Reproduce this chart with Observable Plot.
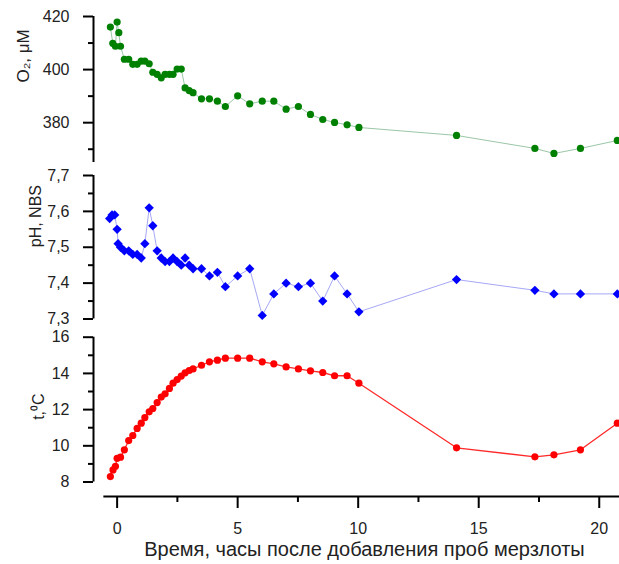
<!DOCTYPE html>
<html>
<head>
<meta charset="utf-8">
<script src="https://cdn.jsdelivr.net/npm/d3@7"></script>
<script src="https://cdn.jsdelivr.net/npm/@observablehq/plot@0.6"></script>
<style>
  html, body { margin: 0; padding: 0; background: #fff; }
  #chart { position: relative; width: 619px; height: 564px; font-family: "Liberation Sans", Arial, sans-serif; }
  #chart svg { position: absolute; left: 0; overflow: visible; }
</style>
</head>
<body>
<div id="chart"></div>
<script>
// ---- Data ----
const timeO2 = [-0.28, -0.18, -0.07, 0.00, 0.07, 0.14, 0.30, 0.48, 0.65, 0.83, 1.00, 1.15, 1.33, 1.48, 1.66, 1.83, 1.99, 2.17, 2.32, 2.49, 2.66, 2.82, 2.99, 3.15, 3.50, 3.83, 4.16, 4.49, 5.00, 5.50, 6.02, 6.50, 7.01, 7.52, 8.02, 8.53, 9.02, 9.54, 10.03, 14.08, 17.33, 18.12, 19.22, 20.75];
const o2 = [416.0, 409.9, 408.8, 417.9, 413.9, 408.8, 403.9, 403.9, 402.0, 402.0, 403.2, 403.2, 402.2, 399.0, 398.2, 396.9, 398.2, 398.2, 398.2, 400.2, 400.2, 393.1, 392.1, 391.3, 389.0, 389.0, 388.1, 386.1, 390.1, 387.1, 388.1, 388.1, 385.1, 386.1, 383.1, 381.2, 380.1, 379.2, 378.2, 375.2, 370.3, 368.4, 370.3, 373.3];

const timePH = [-0.31, -0.21, -0.10, 0.00, 0.04, 0.14, 0.30, 0.48, 0.65, 0.83, 1.00, 1.15, 1.33, 1.48, 1.66, 1.83, 1.99, 2.17, 2.32, 2.49, 2.66, 2.82, 2.99, 3.15, 3.50, 3.83, 4.16, 4.49, 5.00, 5.50, 6.02, 6.50, 7.01, 7.52, 8.02, 8.53, 9.02, 9.54, 10.03, 14.08, 17.33, 18.12, 19.22, 20.75];
const ph = [7.58, 7.59, 7.59, 7.55, 7.51, 7.50, 7.49, 7.49, 7.48, 7.48, 7.47, 7.51, 7.61, 7.56, 7.49, 7.47, 7.46, 7.46, 7.47, 7.46, 7.45, 7.47, 7.45, 7.44, 7.44, 7.42, 7.43, 7.39, 7.42, 7.44, 7.31, 7.37, 7.40, 7.39, 7.40, 7.35, 7.42, 7.37, 7.32, 7.41, 7.38, 7.37, 7.37, 7.37];

const timeT = [-0.28, -0.17, -0.07, 0.00, 0.14, 0.30, 0.48, 0.65, 0.83, 1.00, 1.15, 1.33, 1.48, 1.66, 1.83, 1.99, 2.17, 2.32, 2.49, 2.66, 2.82, 2.99, 3.15, 3.50, 3.83, 4.16, 4.49, 5.00, 5.50, 6.02, 6.50, 7.01, 7.52, 8.02, 8.53, 9.02, 9.54, 10.03, 14.08, 17.33, 18.12, 19.22, 20.75];
const temp = [8.30, 8.67, 8.87, 9.31, 9.37, 9.78, 10.29, 10.57, 10.96, 11.25, 11.56, 11.88, 12.06, 12.39, 12.69, 12.87, 13.17, 13.46, 13.66, 13.85, 14.03, 14.16, 14.25, 14.45, 14.64, 14.73, 14.84, 14.84, 14.84, 14.64, 14.53, 14.36, 14.25, 14.14, 14.05, 13.87, 13.87, 13.46, 9.89, 9.39, 9.50, 9.78, 11.25];

const xMajorTicks = [0, 5, 10, 15, 20];
const xMinorTicks = [2.5, 7.5, 12.5, 17.5];
const o2Major = [380, 400, 420], o2Minor = [370, 390, 410];
const phMajor = [7.3, 7.4, 7.5, 7.6, 7.7], phMinor = [7.35, 7.45, 7.55, 7.65];
const tMajor = [8, 10, 12, 14, 16], tMinor = [9, 11, 13, 15];

const xLabel = "Время, часы после добавления проб мерзлоты";
const o2Label = "O₂, μM";
const phLabel = "pH, NBS";
const tLabel = "t,⁰C";

// ---- Layout ----
const W = 619;
const xDomain = [-0.98, 20.84];
const FONT = "Liberation Sans, Arial, sans-serif";
const chart = document.getElementById("chart");

function yAxisMarks(axisExtent, major, minor, fmt, label, labelDx, labelDy, labelSize) {
  return [
    Plot.ruleX([xDomain[0]], {y1: axisExtent[0], y2: axisExtent[1], stroke: "#000", strokeWidth: 2}),
    Plot.axisY({ticks: major, tickSize: 10, tickPadding: 14, tickFormat: fmt, fontSize: 16, strokeWidth: 2, label: null, fill: "#222"}),
    Plot.axisY({ticks: minor, tickSize: 5, tickFormat: () => "", strokeWidth: 2, label: null}),
    Plot.text([label], {frameAnchor: "left", rotate: -90, dx: labelDx, dy: labelDy, fontSize: labelSize, fill: "#222", text: d => d})
  ];
}

function place(svg, top) {
  svg.style.top = top + "px";
  chart.appendChild(svg);
}

// Panel 1: O2
const o2Data = timeO2.map((t, i) => ({t, v: o2[i]}));
place(Plot.plot({
  width: W, height: 170, marginLeft: 93, marginRight: 0, marginTop: 16, marginBottom: 8,
  style: {fontFamily: FONT, overflow: "visible", background: "transparent"},
  x: {domain: xDomain, axis: null},
  y: {domain: [365, 420], axis: null},
  marks: [
    ...yAxisMarks([365, 420], o2Major, o2Minor, d => d, o2Label, -70, -7, 17),
    Plot.line(o2Data, {x: "t", y: "v", stroke: "#8fbf9c", strokeWidth: 0.9}),
    Plot.dot(o2Data, {x: "t", y: "v", r: 3.6, fill: "#008000", stroke: null})
  ]
}), 0);

// Panel 2: pH
const phData = timePH.map((t, i) => ({t, v: ph[i]}));
place(Plot.plot({
  width: W, height: 155, marginLeft: 93, marginRight: 0, marginTop: 5, marginBottom: 6.5,
  style: {fontFamily: FONT, overflow: "visible", background: "transparent"},
  x: {domain: xDomain, axis: null},
  y: {domain: [7.3, 7.7], axis: null},
  marks: [
    ...yAxisMarks([7.3, 7.7], phMajor, phMinor, d => d.toFixed(1).replace(".", ","), phLabel, -58, 0, 16),
    Plot.line(phData, {x: "t", y: "v", stroke: "#a6a8f7", strokeWidth: 1}),
    Plot.dot(phData, {x: "t", y: "v", r: 4.2, symbol: "diamond2", fill: "#0000ff", stroke: null})
  ]
}), 170);

// Panel 3: temperature + shared x axis
const tData = timeT.map((t, i) => ({t, v: temp[i]}));
place(Plot.plot({
  width: W, height: 239, marginLeft: 93, marginRight: 0, marginTop: 11.7, marginBottom: 68,
  style: {fontFamily: FONT, overflow: "visible", background: "transparent"},
  x: {domain: xDomain, axis: null},
  y: {domain: [7.2, 16], axis: null},
  marks: [
    ...yAxisMarks([8, 16], tMajor, tMinor, d => d, tLabel, -55, 3, 16),
    Plot.ruleY([7.2], {x1: -0.55, x2: xDomain[1], stroke: "#000", strokeWidth: 2}),
    Plot.axisX({ticks: xMajorTicks, tickSize: 12, tickPadding: 14, fontSize: 16, strokeWidth: 2, label: null, fill: "#222"}),
    Plot.axisX({ticks: xMinorTicks, tickSize: 6, tickFormat: () => "", strokeWidth: 2, label: null}),
    Plot.text([xLabel], {frameAnchor: "bottom", dx: 8, dy: 59, fontSize: 20, fill: "#222", text: d => d}),
    Plot.line(tData, {x: "t", y: "v", stroke: "#ff2a2a", strokeWidth: 1.3}),
    Plot.dot(tData, {x: "t", y: "v", r: 3.6, fill: "#ff0000", stroke: null})
  ]
}), 325);
</script>
</body>
</html>
